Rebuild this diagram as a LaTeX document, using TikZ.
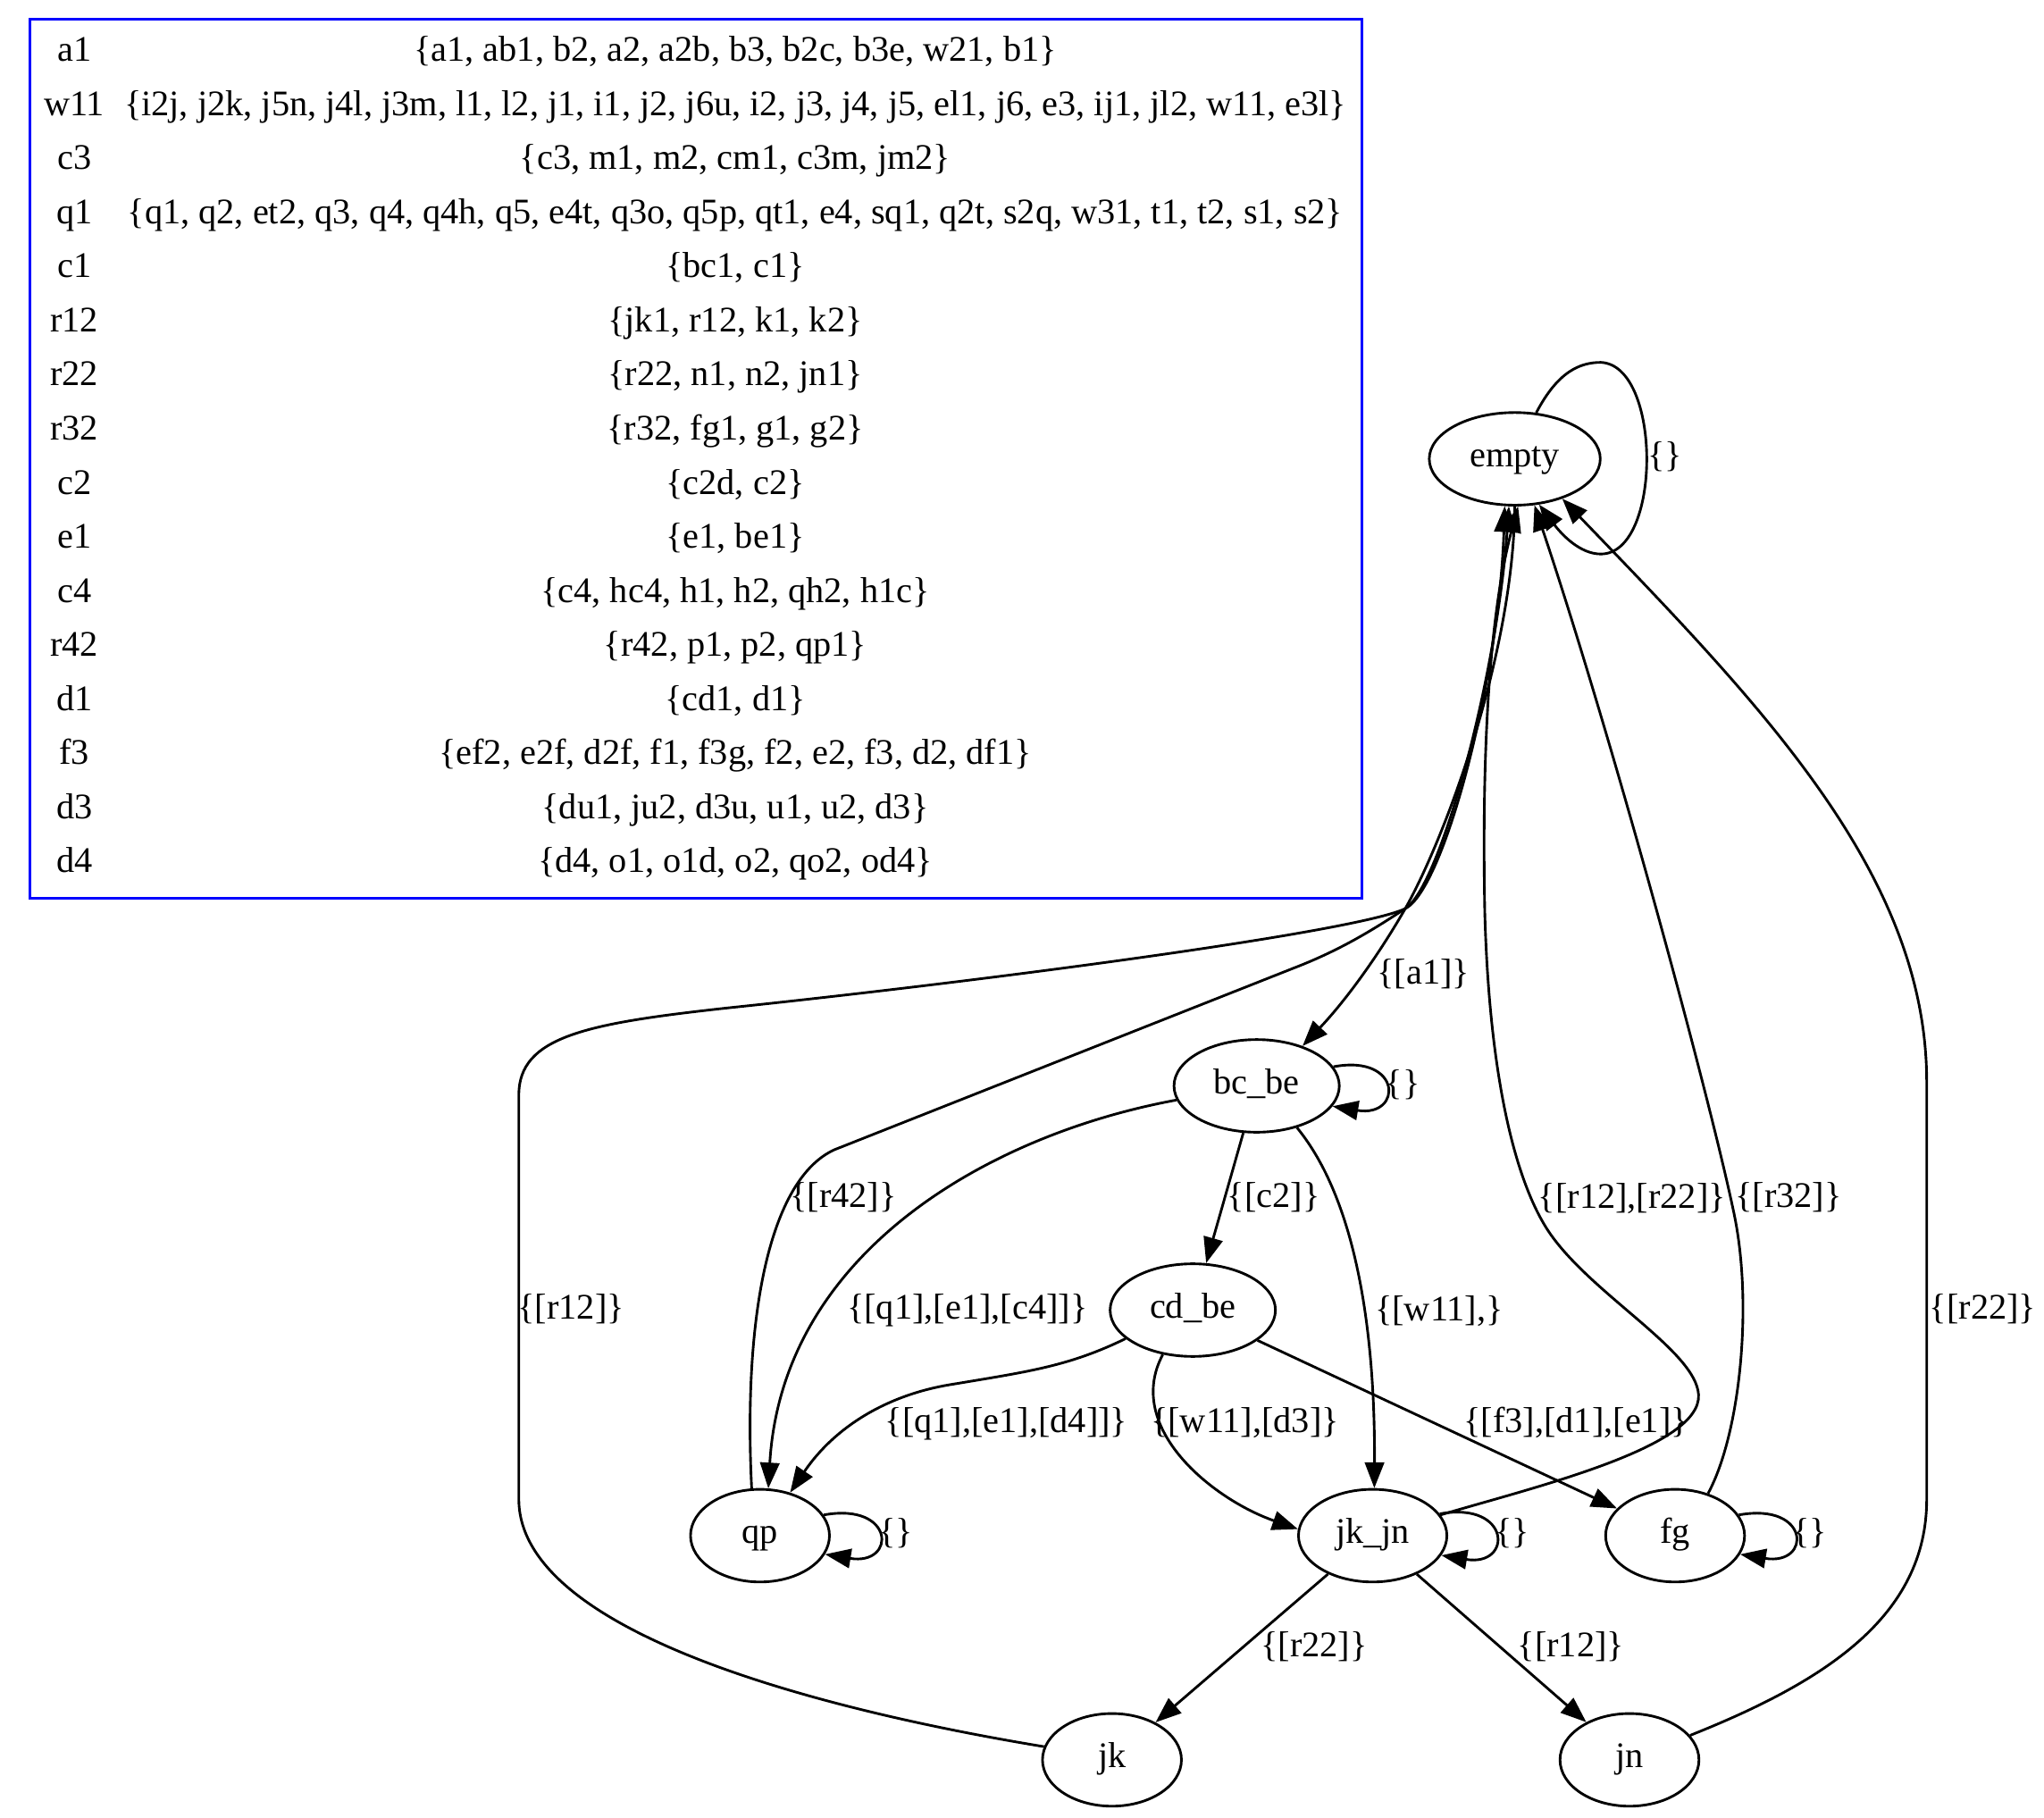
\documentclass[tikz,border=0pt]{standalone}
\usepackage{fontspec}
\setmainfont{Liberation Serif}
\usetikzlibrary{shapes.geometric,arrows.meta}
\tikzset{
  state/.style={ellipse, draw, line width=1pt, minimum width=54pt, minimum height=36pt,
    inner xsep=6pt, inner ysep=3pt, text height=9.6pt, text depth=3.5pt},
  trans/.style={line width=1pt, -{Triangle[length=10pt,width=7.5pt]}},
  lbl/.style={inner sep=0pt, text height=9.6pt, text depth=3.5pt},
  cell/.style={inner sep=0pt, text height=9.6pt, text depth=3.5pt},
}
\begin{document}
\begin{tikzpicture}[x=0.5066pt, y=-0.5066pt, font=\fontsize{14}{16}\selectfont]
\useasboundingbox (0,0) rectangle (1568,1394);

% legend table
\draw[blue, line width=1pt] (23,15) rectangle (1045,689);
\foreach \key/\val [count=\i from 0] in {
    a1/{a1, ab1, b2, a2, a2b, b3, b2c, b3e, w21, b1},
    w11/{i2j, j2k, j5n, j4l, j3m, l1, l2, j1, i1, j2, j6u, i2, j3, j4, j5, el1, j6, e3, ij1, jl2, w11, e3l},
    c3/{c3, m1, m2, cm1, c3m, jm2},
    q1/{q1, q2, et2, q3, q4, q4h, q5, e4t, q3o, q5p, qt1, e4, sq1, q2t, s2q, w31, t1, t2, s1, s2},
    c1/{bc1, c1},
    r12/{jk1, r12, k1, k2},
    r22/{r22, n1, n2, jn1},
    r32/{r32, fg1, g1, g2},
    c2/{c2d, c2},
    e1/{e1, be1},
    c4/{c4, hc4, h1, h2, qh2, h1c},
    r42/{r42, p1, p2, qp1},
    d1/{cd1, d1},
    f3/{ef2, e2f, d2f, f1, f3g, f2, e2, f3, d2, df1},
    d3/{du1, ju2, d3u, u1, u2, d3},
    d4/{d4, o1, o1d, o2, qo2, od4}}{
  \node[cell] (key\i) at (57,{41+41.5*\i}) {\key};
  \node[cell] (val\i) at (564,{41+41.5*\i}) {\{\val\}};
}

% states
\node[state] (empty) at (1162,352) {empty};
\node[state] (bcbe) at (964,833) {bc\_be};
\node[state] (cdbe) at (915,1005) {cd\_be};
\node[state] (qp) at (583,1178) {qp};
\node[state] (jkjn) at (1053,1178) {jk\_jn};
\node[state] (fg) at (1285,1178) {fg};
\node[state] (jk) at (853,1350) {jk};
\node[state] (jn) at (1250,1350) {jn};
\coordinate (meet) at (1078,697);

% self loops
\draw[trans] (empty.65) .. controls (1195,285) and (1212,278) .. (1228,278)
  .. controls (1275,280) and (1275,425) .. (1228,425)
  .. controls (1212,425) and (1198,410) .. (empty.-62)
  node[lbl] (lempty) at (1277,352) {\{\}};
\draw[trans] (bcbe.14) .. controls +(53,-10) and +(54,9) .. (bcbe.-15)
  node[lbl] (lbcbe) at (1076,834) {\{\}};
\draw[trans] (qp.18) .. controls +(55,-10) and +(55,9) .. (qp.-16)
  node[lbl] (lqp) at (687,1178) {\{\}};
\draw[trans] (jkjn.18) .. controls +(55,-10) and +(55,9) .. (jkjn.-16)
  node[lbl] (ljkjn) at (1160,1178) {\{\}};
\draw[trans] (fg.18) .. controls +(55,-10) and +(55,9) .. (fg.-16)
  node[lbl] (lfg) at (1388,1178) {\{\}};

% forward edges
\draw[trans] (empty.-90) .. controls (1161,500) and (1110,640) .. (meet)
  .. controls (1055,737) and (1030,770) .. (bcbe.41)
  node[lbl] (la1) at (1092,749) {\{[a1]\}};
\draw[trans] (bcbe) -- (cdbe) node[lbl] (lc2) at (977,920) {\{[c2]\}};
\draw[trans] (bcbe.190) .. controls (760,870) and (600,960) .. (qp.80)
  node[lbl] (lc4) at (742,1006) {\{[q1],[e1],[c4]]\}};
\draw[trans] (bcbe.-46) .. controls (1040,920) and (1055,1020) .. (jkjn.88)
  node[lbl] (lw11) at (1104,1007) {\{[w11],\}};
\draw[trans] (cdbe.203) .. controls (820,1048) and (790,1052) .. (730,1062)
  .. controls (680,1070) and (640,1095) .. (qp.55)
  node[lbl] (ld4) at (772,1093) {\{[q1],[e1],[d4]]\}};
\draw[trans] (cdbe.-124) .. controls (862,1095) and (930,1150) .. (jkjn.175)
  node[lbl] (ld3) at (955,1093) {\{[w11],[d3]\}};
\draw[trans] (cdbe) -- (fg) node[lbl] (lf3) at (1209,1093) {\{[f3],[d1],[e1]\}};
\draw[trans] (jkjn) -- (jk) node[lbl] (lr22b) at (1008,1265) {\{[r22]\}};
\draw[trans] (jkjn) -- (jn) node[lbl] (lr12b) at (1205,1265) {\{[r12]\}};

% back to empty
\draw[trans] (qp.100) .. controls (570,1010) and (590,905) .. (640,882) -- (994,742)
  .. controls (1030,728) and (1055,712) .. (meet)
  .. controls (1105,680) and (1148,520) .. (empty.-97)
  node[lbl] (lr42) at (647,920) {\{[r42]\}};
\draw[trans] (jk.169) .. controls (620,1310) and (398,1250) .. (398,1150) -- (398,840)
  .. controls (398,795) and (450,785) .. (560,773)
  .. controls (760,752) and (1040,715) .. (meet)
  .. controls (1108,682) and (1150,520) .. (empty.-102)
  node[lbl] (lr12) at (438,1006) {\{[r12]\}};
\draw[trans] (jkjn.17) .. controls (1180,1140) and (1305,1110) .. (1303,1070)
  .. controls (1301,1035) and (1215,990) .. (1185,940)
  .. controls (1158,895) and (1142,810) .. (1139,700)
  .. controls (1137,600) and (1140,480) .. (empty.-86)
  node[lbl] (lr1222) at (1252,921) {\{[r12],[r22]\}};
\draw[trans] (fg.52) .. controls (1335,1100) and (1345,1000) .. (1330,930)
  .. controls (1310,835) and (1235,560) .. (empty.-67)
  node[lbl] (lr32) at (1372,920) {\{[r32]\}};
\draw[trans] (jn.22) .. controls (1400,1290) and (1478,1240) .. (1478,1150) -- (1478,830)
  .. controls (1478,670) and (1350,540) .. (empty.-40)
  node[lbl] (lr22) at (1521,1006) {\{[r22]\}};
\end{tikzpicture}
\end{document}
